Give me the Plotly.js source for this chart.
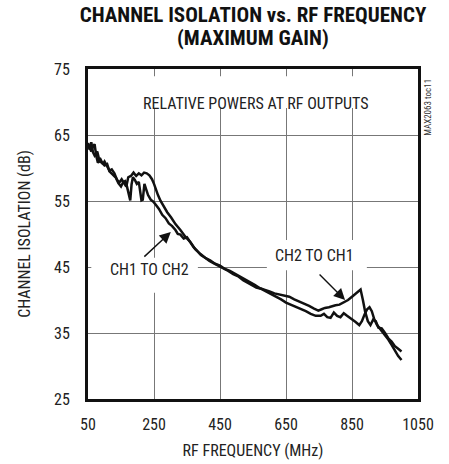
<!DOCTYPE html>
<html>
<head>
<meta charset="utf-8">
<script src="https://cdn.plot.ly/plotly-3.0.1.min.js"></script>
<style>html,body{margin:0;padding:0;background:#fff;}#chart{width:449px;height:464px;}</style>
</head>
<body>
<div id="chart"></div>
<script>
// Curve with the hump near 200 MHz and the peak near 876 MHz
var freqA = [50,55,60,65,70,75,80,88,95,100,108,115,122,130,138,145,152,160,166,172,180,188,196,204,212,220,228,236,244,250,256,262,270,280,290,302,315,330,345,360,375,390,405,420,435,450,465,480,495,510,525,540,555,570,585,600,615,630,645,660,675,690,705,720,735,748,758,768,780,790,800,812,825,838,850,862,876,883,890,898,906,914,922,930,940,950,960,970,980,990,1000];
var isoA = [63.8,63.0,62.5,63.3,63.6,61.8,60.8,61.3,60.6,61.0,60.3,59.6,59.8,59.2,58.2,57.8,58.3,57.6,57.2,58.6,58.8,59.3,58.8,59.2,58.9,59.3,59.2,58.9,58.3,57.6,56.6,55.9,55.0,54.1,53.3,52.5,51.5,50.6,49.6,48.8,47.7,47.0,46.4,46.0,45.5,45.2,44.7,44.4,44.0,43.5,43.1,42.7,42.3,41.8,41.6,41.3,41.0,40.8,40.6,40.5,40.1,39.8,39.5,39.1,38.7,38.4,38.6,38.8,38.9,39.1,39.2,39.3,39.6,40.0,40.5,41.0,41.6,40.0,38.2,36.8,36.2,37.0,36.8,35.8,35.7,35.0,34.2,33.7,33.0,32.6,32.2];

// Curve with the dips near 180/215 MHz
var freqB = [50,55,60,65,70,78,85,92,100,108,115,125,135,142,150,156,162,168,173,178,182,186,192,198,204,208,212,216,221,226,232,240,248,256,265,275,285,295,305,315,322,330,340,350,360,370,380,392,405,418,430,445,460,475,490,505,520,535,548,560,575,590,605,620,635,650,665,680,695,710,725,740,755,765,775,785,795,805,815,825,835,848,860,872,880,888,896,903,910,918,926,934,942,950,960,970,980,990,1000];
var isoB = [63.5,62.8,63.9,62.4,61.9,62.5,61.0,60.8,60.4,60.6,59.5,59.0,58.5,57.7,57.2,57.8,58.0,57.2,56.0,55.1,57.5,58.6,58.2,57.6,57.9,56.5,55.1,55.2,57.6,56.8,55.9,55.2,54.9,54.4,53.8,52.9,52.4,51.6,51.2,50.6,50.0,49.9,49.3,49.5,48.7,48.0,47.5,46.8,46.4,45.9,45.6,45.2,44.9,44.4,43.9,43.6,43.0,42.6,42.3,41.9,41.7,41.3,41.0,40.6,40.1,39.6,39.3,39.0,38.7,38.3,37.9,37.6,37.6,37.9,37.4,37.3,38.1,37.6,37.4,38.0,37.6,37.2,36.7,36.2,36.8,37.8,38.6,38.9,38.3,37.0,36.2,35.7,35.2,34.7,34.0,33.2,32.3,31.5,30.9];

var xTicks = [50,250,450,650,850,1050];
var yTicks = [25,35,45,55,65,75];

var FONT = "'Liberation Sans Narrow','Arial Narrow','Roboto Condensed',Roboto,sans-serif";

var traces = [
  {x: freqA, y: isoA, mode: 'lines', line: {color: '#111', width: 2.5}, hoverinfo: 'skip', showlegend: false},
  {x: freqB, y: isoB, mode: 'lines', line: {color: '#111', width: 2.5}, hoverinfo: 'skip', showlegend: false}
];

function whiteBox(x0, x1, y0, y1) {
  return {type: 'rect', xref: 'x', yref: 'y', x0: x0, x1: x1, y0: y0, y1: y1,
          fillcolor: '#fff', line: {width: 0}, layer: 'between'};
}

var layout = {
  width: 449, height: 464,
  margin: {l: 88, r: 31, t: 69, b: 65, pad: 0},
  paper_bgcolor: '#fff', plot_bgcolor: '#fff',
  font: {family: FONT, color: '#222', size: 16},
  title: {
    text: '<b>CHANNEL ISOLATION vs. RF FREQUENCY</b>',
    font: {family: FONT, size: 21, color: '#111'},
    xref: 'paper', x: 0.5, xanchor: 'center',
    yref: 'container', y: 0.9677, yanchor: 'middle'
  },
  xaxis: {
    range: [50, 1050], tickvals: xTicks, ticktext: xTicks.map(String),
    showgrid: true, gridcolor: '#777', gridwidth: 1,
    showline: true, linecolor: '#111', linewidth: 3, mirror: true,
    ticks: '', zeroline: false, ticklabelstandoff: 9,
    tickfont: {family: FONT, size: 16, color: '#222'},
    title: {text: 'RF FREQUENCY (MHz)', font: {family: FONT, size: 16, color: '#222'}, standoff: 12},
    fixedrange: true
  },
  yaxis: {
    range: [25, 75], tickvals: yTicks, ticktext: yTicks.map(String),
    showgrid: true, gridcolor: '#777', gridwidth: 1,
    showline: true, linecolor: '#111', linewidth: 3, mirror: true,
    ticks: '', zeroline: false, ticklabelstandoff: 12,
    tickfont: {family: FONT, size: 16, color: '#222'},
    title: {text: 'CHANNEL ISOLATION (dB)', font: {family: FONT, size: 16, color: '#222'}, standoff: 20},
    fixedrange: true
  },
  shapes: [
    whiteBox(177, 935, 69.1, 73.9),
    whiteBox(60, 383, 41.1, 46.4),
    whiteBox(592, 895, 44.5, 49.1)
  ],
  annotations: [
    {xref: 'paper', yref: 'paper', x: 0.5, y: 1.0939, yanchor: 'middle', text: '<b>(MAXIMUM GAIN)</b>',
     showarrow: false, font: {family: FONT, size: 21, color: '#111'}},
    {xref: 'paper', yref: 'paper', x: 0.508, y: 0.93, text: 'RELATIVE POWERS AT RF OUTPUTS',
     showarrow: false, font: {family: FONT, size: 16, color: '#222'}},
    {xref: 'x', yref: 'y', x: 236, y: 44.6, text: 'CH1 TO CH2', showarrow: false,
     font: {family: FONT, size: 16, color: '#222'}},
    {xref: 'x', yref: 'y', x: 735, y: 46.7, text: 'CH2 TO CH1', showarrow: false,
     font: {family: FONT, size: 16, color: '#222'}},
    {xref: 'x', yref: 'y', x: 301, y: 50.3, ax: -28, ay: 26, text: '', showarrow: true,
     arrowhead: 2, arrowsize: 1.6, arrowwidth: 1.4, arrowcolor: '#111', standoff: 0},
    {xref: 'x', yref: 'y', x: 829, y: 40.0, ax: -27, ay: -27, text: '', showarrow: true,
     arrowhead: 2, arrowsize: 1.6, arrowwidth: 1.4, arrowcolor: '#111', standoff: 0},
    {xref: 'paper', yref: 'paper', x: 1.03, xanchor: 'center', y: 0.885, yanchor: 'middle',
     text: 'MAX2063 toc11', textangle: -90,
     showarrow: false, font: {family: FONT, size: 9, color: '#333'}}
  ]
};

Plotly.newPlot('chart', traces, layout, {displayModeBar: false, staticPlot: true});
</script>
</body>
</html>
